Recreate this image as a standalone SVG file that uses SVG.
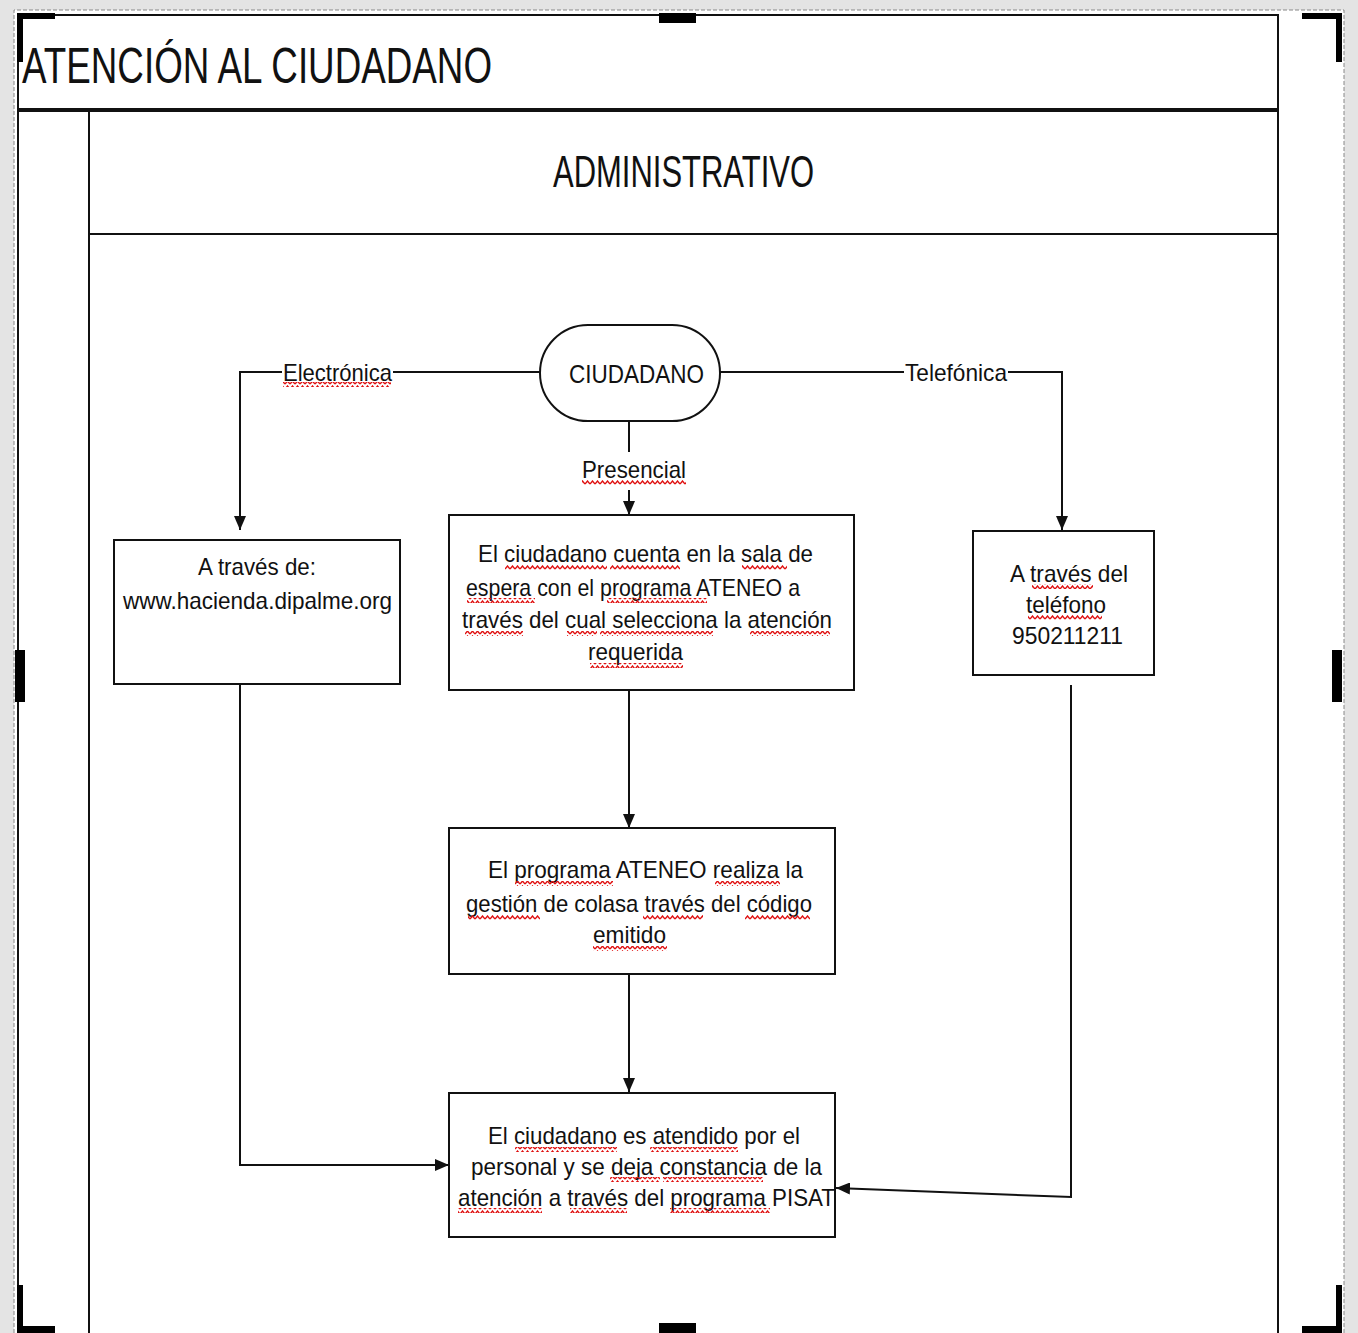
<svg xmlns="http://www.w3.org/2000/svg" width="1358" height="1333" viewBox="0 0 1358 1333">
<defs>
<style>
.t{font-family:"Liberation Sans",Arial,sans-serif;fill:#111;}
.b{font-size:24px;}
.box{fill:#fff;stroke:#111;stroke-width:2;}
.con{fill:none;stroke:#111;stroke-width:2;}
.frame{fill:none;stroke:#111;stroke-width:2;}
.h{fill:#000;}
.sq{fill:url(#squig);}
</style>
<marker id="arr" markerUnits="userSpaceOnUse" markerWidth="14" markerHeight="12" refX="14" refY="6" orient="auto">
<path d="M0,0 L14,6 L0,12 z" fill="#111"/>
</marker>
<pattern id="squig" patternUnits="userSpaceOnUse" width="5" height="5" y="0">
<path d="M0,4 L2.5,1 L5,4" fill="none" stroke="#e01010" stroke-width="1.4"/>
</pattern>
</defs>
<rect x="0" y="0" width="1358" height="1333" fill="#e4e4e4"/>
<rect x="14" y="10" width="1330" height="1330" fill="#fff"/>
<path d="M14,1333 V10 H1344 V1333" fill="none" stroke="#888" stroke-width="1" stroke-dasharray="4,2"/>

<g id="pool">
<path class="frame" d="M18,1340 V15 H1278 V1340"/>
<line x1="18" y1="110" x2="1278" y2="110" stroke="#111" stroke-width="4"/>
<line x1="89" y1="110" x2="89" y2="1340" stroke="#111" stroke-width="2"/>
<line x1="89" y1="234" x2="1278" y2="234" stroke="#111" stroke-width="2"/>
<text class="t" x="22" y="83" font-size="50" textLength="470" lengthAdjust="spacingAndGlyphs">ATENCIÓN AL CIUDADANO</text>
<text class="t" x="553" y="187" font-size="44" textLength="261" lengthAdjust="spacingAndGlyphs">ADMINISTRATIVO</text>
</g>

<g id="connectors">
<path class="con" d="M540,372 H240 V530" marker-end="url(#arr)"/>
<path class="con" d="M720,372 H1062 V530" marker-end="url(#arr)"/>
<path class="con" d="M629,421 V515" marker-end="url(#arr)"/>
<path class="con" d="M629,690 V828" marker-end="url(#arr)"/>
<path class="con" d="M629,974 V1092" marker-end="url(#arr)"/>
<path class="con" d="M240,684 V1165 H449" marker-end="url(#arr)"/>
<path class="con" d="M1071,685 V1197 L836,1188" marker-end="url(#arr)"/>
<g id="lbl-electronica">
<rect x="282" y="360" width="111" height="28" fill="#fff"/>
<text class="t b" x="283" y="381" textLength="109" lengthAdjust="spacingAndGlyphs">Electrónica</text>
<rect class="sq" x="283" y="382" width="108" height="5"/>
</g>
<g id="lbl-telefonica">
<rect x="904" y="360" width="104" height="28" fill="#fff"/>
<text class="t b" x="905" y="381" textLength="102" lengthAdjust="spacingAndGlyphs">Telefónica</text>
</g>
<g id="lbl-presencial">
<rect x="580" y="452" width="108" height="38" fill="#fff"/>
<text class="t b" x="582" y="478" textLength="104" lengthAdjust="spacingAndGlyphs">Presencial</text>
<rect class="sq" x="582" y="480" width="104" height="5"/>
</g>
</g>

<g id="n-ciudadano">
<rect class="box" x="540" y="325" width="180" height="96" rx="48" ry="48"/>
<text class="t" x="569" y="383" font-size="26" textLength="135" lengthAdjust="spacingAndGlyphs">CIUDADANO</text>
</g>

<g id="n-electronica">
<rect class="box" x="114" y="540" width="286" height="144"/>
<text class="t b" x="198" y="575" textLength="118" lengthAdjust="spacingAndGlyphs">A través de:</text>
<text class="t b" x="123" y="609" textLength="269" lengthAdjust="spacingAndGlyphs">www.hacienda.dipalme.org</text>
</g>

<g id="n-sala">
<rect class="box" x="449" y="515" width="405" height="175"/>
<text class="t b" x="478" y="562" textLength="335" lengthAdjust="spacingAndGlyphs">El ciudadano cuenta en la sala de</text>
<text class="t b" x="466" y="596" textLength="334" lengthAdjust="spacingAndGlyphs">espera con el programa ATENEO a</text>
<text class="t b" x="462" y="628" textLength="370" lengthAdjust="spacingAndGlyphs">través del cual selecciona la atención</text>
<text class="t b" x="588" y="660" textLength="95" lengthAdjust="spacingAndGlyphs">requerida</text>
<rect class="sq" x="505" y="565" width="102" height="5"/>
<rect class="sq" x="610" y="565" width="70" height="5"/>
<rect class="sq" x="742" y="565" width="45" height="5"/>
<rect class="sq" x="467" y="598" width="68" height="5"/>
<rect class="sq" x="607" y="598" width="100" height="5"/>
<rect class="sq" x="465" y="631" width="58" height="5"/>
<rect class="sq" x="567" y="631" width="30" height="5"/>
<rect class="sq" x="600" y="631" width="113" height="5"/>
<rect class="sq" x="750" y="631" width="80" height="5"/>
<rect class="sq" x="590" y="663" width="93" height="5"/>
</g>

<g id="n-telefono">
<rect class="box" x="973" y="531" width="181" height="144"/>
<text class="t b" x="1010" y="582" textLength="118" lengthAdjust="spacingAndGlyphs">A través del</text>
<text class="t b" x="1026" y="613" textLength="80" lengthAdjust="spacingAndGlyphs">teléfono</text>
<text class="t b" x="1012" y="644" textLength="111" lengthAdjust="spacingAndGlyphs">950211211</text>
<rect class="sq" x="1032" y="584" width="61" height="5"/>
<rect class="sq" x="1028" y="615" width="74" height="5"/>
</g>

<g id="n-ateneo">
<rect class="box" x="449" y="828" width="386" height="146"/>
<text class="t b" x="488" y="878" textLength="315" lengthAdjust="spacingAndGlyphs">El programa ATENEO realiza la</text>
<text class="t b" x="466" y="912" textLength="346" lengthAdjust="spacingAndGlyphs">gestión de colasa través del código</text>
<text class="t b" x="593" y="943" textLength="73" lengthAdjust="spacingAndGlyphs">emitido</text>
<rect class="sq" x="515" y="881" width="98" height="5"/>
<rect class="sq" x="715" y="881" width="65" height="5"/>
<rect class="sq" x="468" y="915" width="72" height="5"/>
<rect class="sq" x="643" y="915" width="60" height="5"/>
<rect class="sq" x="745" y="915" width="65" height="5"/>
<rect class="sq" x="593" y="946" width="74" height="5"/>
</g>

<g id="n-atendido">
<rect class="box" x="449" y="1093" width="386" height="144"/>
<text class="t b" x="488" y="1144" textLength="312" lengthAdjust="spacingAndGlyphs">El ciudadano es atendido por el</text>
<text class="t b" x="471" y="1175" textLength="351" lengthAdjust="spacingAndGlyphs">personal y se deja constancia de la</text>
<text class="t b" x="458" y="1206" textLength="377" lengthAdjust="spacingAndGlyphs">atención a través del programa PISAT</text>
<rect class="sq" x="515" y="1147" width="102" height="5"/>
<rect class="sq" x="650" y="1147" width="88" height="5"/>
<rect class="sq" x="610" y="1177" width="50" height="5"/>
<rect class="sq" x="663" y="1177" width="100" height="5"/>
<rect class="sq" x="458" y="1208" width="84" height="5"/>
<rect class="sq" x="570" y="1208" width="57" height="5"/>
<rect class="sq" x="670" y="1208" width="100" height="5"/>
</g>

<g id="handles">
<path class="h" d="M17,13 H55 V19 H23 V62 H17 z"/>
<rect class="h" x="659" y="13" width="37" height="10"/>
<path class="h" d="M1302,13 H1342 V62 H1336 V19 H1302 z"/>
<rect class="h" x="15" y="650" width="10" height="52"/>
<rect class="h" x="1332" y="650" width="10" height="52"/>
<path class="h" d="M17,1285 H23 V1326 H55 V1333 H17 z"/>
<rect class="h" x="659" y="1323" width="37" height="10"/>
<path class="h" d="M1336,1285 H1342 V1333 H1302 V1326 H1336 z"/>
</g>
</svg>
